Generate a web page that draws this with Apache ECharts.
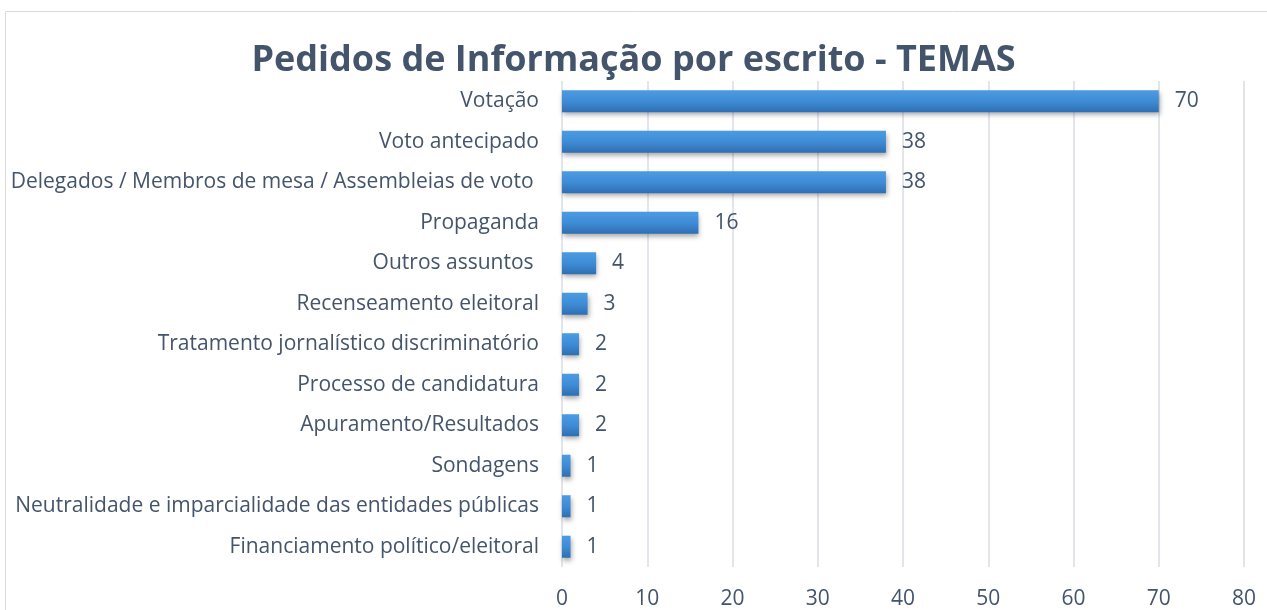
<!DOCTYPE html>
<html><head><meta charset="utf-8">
<script src="https://cdn.jsdelivr.net/npm/echarts@6/dist/echarts.min.js"></script>
<style>html,body{margin:0;padding:0;background:#fff}#c{width:1267px;height:610px}</style>
</head><body><div id="c"></div>
<script>
const categories = [
  "Votação",
  "Voto antecipado",
  "Delegados / Membros de mesa / Assembleias de voto ",
  "Propaganda",
  "Outros assuntos ",
  "Recenseamento eleitoral",
  "Tratamento jornalístico discriminatório",
  "Processo de candidatura",
  "Apuramento/Resultados",
  "Sondagens",
  "Neutralidade e imparcialidade das entidades públicas",
  "Financiamento político/eleitoral"
];
const values = [70, 38, 38, 16, 4, 3, 2, 2, 2, 1, 1, 1];
const titleText = "Pedidos de Informação por escrito - TEMAS";
const FONT = "Open Sans";
const chart = echarts.init(document.getElementById('c'), null, {renderer:'canvas'});
chart.setOption({
  backgroundColor: '#fff',
  animation: false,
  graphic: [{type:'rect', shape:{x:5.5,y:11.5,width:1300,height:700}, style:{fill:'none', stroke:'#D9D9D9', lineWidth:1}, silent:true}],
  title: {text: titleText, left: 'center', top: 38, textStyle:{fontFamily:FONT, fontWeight:'bold', fontSize:36, color:'#44546A'}},
  grid: {left: 562, right: 23, top: 81, bottom: 43, containLabel:false},
  xAxis: {type:'value', min:0, max:80, interval:10,
    axisLine:{show:false}, axisTick:{show:false},
    splitLine:{show:true, lineStyle:{color:'#D9DEE5', width:1.5}},
    axisLabel:{fontFamily:FONT, fontSize:21, color:'#44546A', margin:22}},
  yAxis: {type:'category', inverse:true, data: categories,
    axisLine:{show:false}, axisTick:{show:false},
    axisLabel:{fontFamily:FONT, fontSize:21, color:'#44546A', margin:23}},
  series: [{type:'bar', data: values, barWidth:22,
    itemStyle:{color:new echarts.graphic.LinearGradient(0,0,0,1,[{offset:0,color:'#4B9BE2'},{offset:0.5,color:'#3F8CD6'},{offset:1,color:'#2F6EB2'}]),
      shadowColor:'rgba(0,0,0,0.35)', shadowBlur:5, shadowOffsetY:3, shadowOffsetX:1},
    label:{show:true, position:'right', distance:16, fontFamily:FONT, fontSize:21, color:'#44546A'}}]
});
</script></body></html>
